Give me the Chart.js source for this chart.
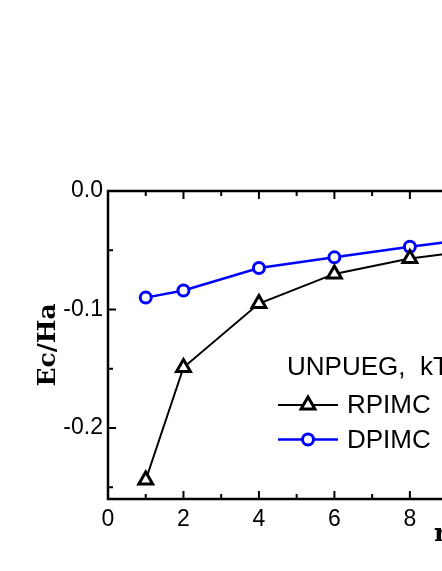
<!DOCTYPE html>
<html>
<head>
<meta charset="utf-8">
<script src="https://cdn.jsdelivr.net/npm/chart.js@4/dist/chart.umd.min.js"></script>
<style>
html,body{margin:0;padding:0;background:#fff;overflow:hidden;width:442px;height:571px;}
#wrap{position:relative;width:442px;height:571px;overflow:hidden;}
canvas{display:block;}
</style>
</head>
<body>
<div id="wrap"><canvas id="c" width="807" height="571"></canvas></div>
<script>
// ---- data ----
const rs = [1, 2, 4, 6, 8, 10];
const rpimc = [-0.244, -0.149, -0.095, -0.070, -0.057, -0.049];
const dpimc = [-0.090, -0.084, -0.065, -0.056, -0.047, -0.039];
const seriesNames = ['RPIMC', 'DPIMC'];
const legendTitle = 'UNPUEG,  kT';
const xTickValues = [0, 2, 4, 6, 8, 10, 12, 14, 16, 18];
const xMinorValues = [1, 3, 5, 7, 9, 11, 13, 15, 17];
const yTickValues = [0, -0.1, -0.2];
const yMinorValues = [-0.05, -0.15, -0.25];
const xTitle = 'rs';
const yTitle = 'Ec/Ha';

const toPts = (ys) => rs.map((x, i) => ({x: x, y: ys[i]}));

const frame = {
  id: 'frame',
  afterDraw(chart) {
    const ctx = chart.ctx, a = chart.chartArea;
    const xs = chart.scales.x, ys = chart.scales.y;
    ctx.save();
    ctx.strokeStyle = '#000';
    ctx.lineWidth = 2.5;
    ctx.beginPath();
    ctx.moveTo(a.left, a.top); ctx.lineTo(a.right, a.top);
    ctx.moveTo(a.left, a.top - 1.25); ctx.lineTo(a.left, a.bottom + 1.25);
    ctx.moveTo(a.left, a.bottom); ctx.lineTo(a.right, a.bottom);
    ctx.stroke();
    ctx.lineWidth = 2;
    ctx.beginPath();
    const tick = (vals, len) => {
      vals.forEach(v => {
        const px = xs.getPixelForValue(v);
        if (px <= a.left + 1 || px > a.right) return;
        ctx.moveTo(px, a.bottom); ctx.lineTo(px, a.bottom - len);
        ctx.moveTo(px, a.top); ctx.lineTo(px, a.top + len);
      });
    };
    tick(xTickValues, 8); tick(xMinorValues, 5);
    const ytick = (vals, len) => {
      vals.forEach(v => {
        const py = ys.getPixelForValue(v);
        if (py <= a.top + 1 || py >= a.bottom - 1) return;
        ctx.moveTo(a.left, py); ctx.lineTo(a.left + len, py);
      });
    };
    ytick(yTickValues, 8); ytick(yMinorValues, 5);
    ctx.stroke();

    // legend
    const lx = a.left + 170, ly0 = a.top + 214, dy = 34.5;
    ctx.font = '26px "Liberation Sans", Arial, sans-serif';
    ctx.fillStyle = '#000';
    ctx.textBaseline = 'alphabetic';
    ctx.textAlign = 'left';
    ctx.fillText(legendTitle, lx + 9, a.top + 184);
    chart.data.datasets.forEach((ds, i) => {
      const y = ly0 + i * dy;
      ctx.strokeStyle = ds.borderColor;
      ctx.lineWidth = ds.borderWidth;
      ctx.beginPath();
      ctx.moveTo(lx, y); ctx.lineTo(lx + 60, y);
      ctx.stroke();
      const opts = {
        pointStyle: ds.pointStyle, radius: ds.pointRadius, rotation: 0,
        borderWidth: ds.pointBorderWidth
      };
      ctx.fillStyle = '#fff';
      ctx.strokeStyle = ds.pointBorderColor;
      ctx.lineWidth = ds.pointBorderWidth;
      Chart.helpers.drawPoint(ctx, opts, lx + 30, y);
      ctx.fillStyle = '#000';
      ctx.textBaseline = 'middle';
      ctx.fillText(ds.label, lx + 69, y + 1);
    });
    ctx.restore();
  }
};

new Chart(document.getElementById('c'), {
  type: 'line',
  data: {
    datasets: [
      {
        label: seriesNames[0], data: toPts(rpimc),
        borderColor: '#000', borderWidth: 2,
        pointStyle: 'triangle', pointRadius: 8, pointBorderWidth: 3,
        pointBorderColor: '#000', pointBackgroundColor: '#fff',
        tension: 0
      },
      {
        label: seriesNames[1], data: toPts(dpimc),
        borderColor: '#0000ff', borderWidth: 2.5,
        pointStyle: 'circle', pointRadius: 5.5, pointBorderWidth: 3,
        pointBorderColor: '#0000ff', pointBackgroundColor: '#fff',
        tension: 0
      }
    ]
  },
  options: {
    responsive: false,
    animation: false,
    devicePixelRatio: 1,
    layout: {padding: {top: 191, left: 0, right: 0, bottom: 0}},
    plugins: {legend: {display: false}, tooltip: {enabled: false}},
    scales: {
      x: {
        type: 'linear', min: 0, max: 18,
        afterFit: s => { s.height = 72; },
        afterBuildTicks: s => { s.ticks = xTickValues.map(v => ({value: v})); },
        grid: {display: false, drawTicks: false},
        border: {display: false},
        ticks: {
          padding: 7, color: '#000', maxRotation: 0, autoSkip: false,
          font: {family: '"Liberation Sans", Arial, sans-serif', size: 23},
          callback: v => String(v)
        },
        title: {
          display: true, text: xTitle, color: '#000',
          font: {family: '"DejaVu Serif", serif', size: 25, weight: 'bold'},
          padding: {top: 0, bottom: 22}
        }
      },
      y: {
        type: 'linear', min: -0.26, max: 0,
        afterFit: s => { s.width = 108; },
        afterBuildTicks: s => { s.ticks = yTickValues.map(v => ({value: v})); },
        grid: {display: false, drawTicks: false},
        border: {display: false},
        ticks: {
          padding: 5, color: '#000', autoSkip: false,
          font: {family: '"Liberation Sans", Arial, sans-serif', size: 23},
          callback: v => (Math.abs(v) < 1e-9 ? 0 : v).toFixed(1)
        },
        title: {
          display: true, text: yTitle, color: '#000',
          font: {family: '"DejaVu Serif", serif', size: 25, weight: 'bold'},
          padding: {top: 33, bottom: 0}
        }
      }
    }
  },
  plugins: [frame]
});
</script>
</body>
</html>
